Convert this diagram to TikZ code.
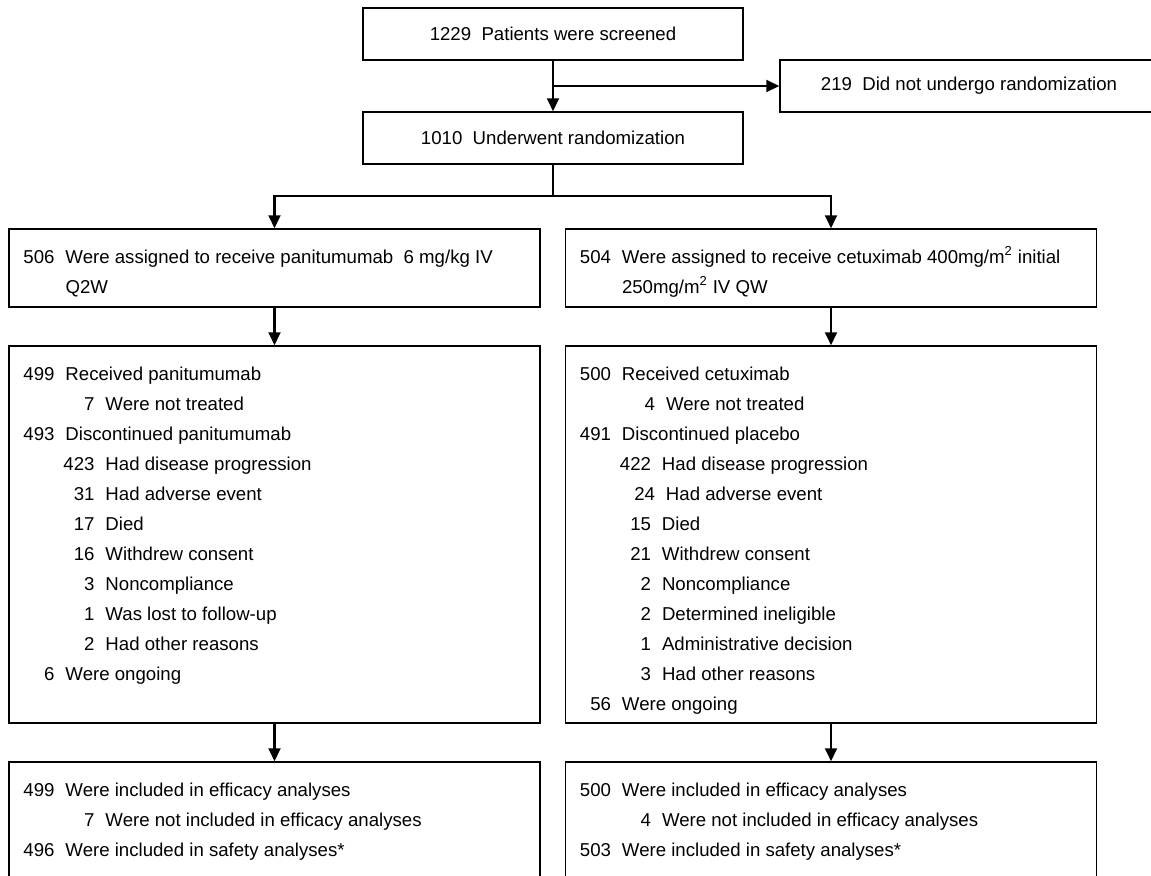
\documentclass[tikz,border=0pt]{standalone}
\usepackage{fontspec}
\setmainfont{Liberation Sans}
\usetikzlibrary{arrows.meta,calc}
\tikzset{
  flowtext/.style={font=\fontsize{13.25}{21.34}\selectfont, text=black},
  flowbox/.style={draw=black, line width=1.1pt, fill=white, inner sep=0pt},
  headbox/.style={flowbox, minimum width=9.5cm, minimum height=1.3cm},
  excbox/.style={flowbox, minimum width=9.45cm, minimum height=1.3cm},
  armbox/.style={flowbox, minimum width=13.275cm, minimum height=1.95cm},
  listbox/.style={flowbox, minimum width=13.275cm, minimum height=9.425cm},
  anabox/.style={flowbox, minimum width=13.275cm, minimum height=3.2cm},
  flowlist/.style={flowtext, anchor=north west, align=left, inner sep=0pt},
  flowarrow/.style={-{Triangle[length=9.2pt,width=8.5pt]}, line width=1.5pt, draw=black},
  flowline/.style={line width=1.5pt, draw=black}
}
\newcommand{\rowA}[2]{\strut\makebox[0.9cm][r]{#1}\hspace{0.275cm}#2}
\newcommand{\rowB}[2]{\strut\hspace{1.0cm}\makebox[0.9cm][r]{#1}\hspace{0.275cm}#2}

\begin{document}
\begin{tikzpicture}[every node/.style={flowtext}]
\useasboundingbox (0,0) rectangle (28.775,-21.875);
\clip (0,0) rectangle (28.775,-21.875);

% screening and randomization
\node[headbox] (screen) at (13.825,-0.85) {1229\ \ Patients were screened};
\node[excbox] (excl) at (24.225,-2.15) {219\ \ Did not undergo randomization};
\node[headbox] (rand) at (13.825,-3.45) {1010\ \ Underwent randomization};
\coordinate (split) at (13.825,-4.9);

% the two arms
\node[armbox] (armL) at (6.8625,-6.7) {};
\node[armbox] (armR) at (20.775,-6.7) {};
\node[flowlist] (armLtext) at ($(armL.north west)+(0.25,-0.3425)$)
  {\rowA{506}{Were assigned to receive panitumumab\ \ 6 mg/kg IV}\\\rowA{}{Q2W}};
\node[flowlist] (armRtext) at ($(armR.north west)+(0.25,-0.3425)$)
  {\rowA{504}{Were assigned to receive cetuximab 400mg/m\textsuperscript{2} initial}\\\rowA{}{250mg/m\textsuperscript{2} IV QW}};

% follow-up
\node[listbox] (followL) at (6.8625,-13.3625) {};
\node[listbox] (followR) at (20.775,-13.3625) {};
\node[flowlist] (followLtext) at ($(followL.north west)+(0.25,-0.3425)$) {%
  \rowA{499}{Received panitumumab}\\
  \rowB{7}{Were not treated}\\
  \rowA{493}{Discontinued panitumumab}\\
  \rowB{423}{Had disease progression}\\
  \rowB{31}{Had adverse event}\\
  \rowB{17}{Died}\\
  \rowB{16}{Withdrew consent}\\
  \rowB{3}{Noncompliance}\\
  \rowB{1}{Was lost to follow-up}\\
  \rowB{2}{Had other reasons}\\
  \rowA{6}{Were ongoing}};
\node[flowlist] (followRtext) at ($(followR.north west)+(0.25,-0.3425)$) {%
  \rowA{500}{Received cetuximab}\\
  \hspace{0.1cm}\rowB{4}{Were not treated}\\
  \rowA{491}{Discontinued placebo}\\
  \rowB{422}{Had disease progression}\\
  \hspace{0.1cm}\rowB{24}{Had adverse event}\\
  \rowB{15}{Died}\\
  \rowB{21}{Withdrew consent}\\
  \rowB{2}{Noncompliance}\\
  \rowB{2}{Determined ineligible}\\
  \rowB{1}{Administrative decision}\\
  \rowB{3}{Had other reasons}\\
  \rowA{56}{Were ongoing}};

% analyses
\node[anabox] (anaL) at (6.8625,-20.65) {};
\node[anabox] (anaR) at (20.775,-20.65) {};
\node[flowlist] (anaLtext) at ($(anaL.north west)+(0.25,-0.3425)$) {%
  \rowA{499}{Were included in efficacy analyses}\\
  \rowB{7}{Were not included in efficacy analyses}\\
  \rowA{496}{Were included in safety analyses*}};
\node[flowlist] (anaRtext) at ($(anaR.north west)+(0.25,-0.3425)$) {%
  \rowA{500}{Were included in efficacy analyses}\\
  \rowB{4}{Were not included in efficacy analyses}\\
  \rowA{503}{Were included in safety analyses*}};

% connectors
\draw[flowarrow] (screen.south) -- (rand.north);
\draw[flowarrow] (screen.south |- excl.west) -- (excl.west);
\draw[flowline] (rand.south) -- (split);
\draw[flowarrow] (split) -| (armL.north);
\draw[flowarrow] (split) -| (armR.north);
\draw[flowarrow] (armL.south) -- (followL.north);
\draw[flowarrow] (armR.south) -- (followR.north);
\draw[flowarrow] (followL.south) -- (anaL.north);
\draw[flowarrow] (followR.south) -- (anaR.north);
\end{tikzpicture}
\end{document}
